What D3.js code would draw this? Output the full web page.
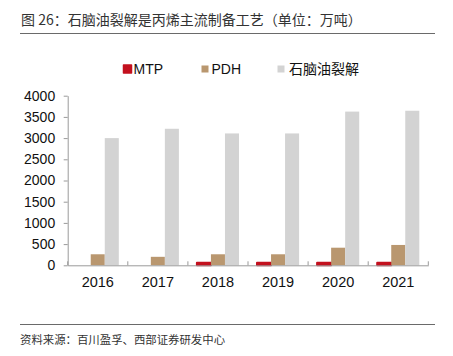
<!DOCTYPE html>
<html><head><meta charset="utf-8">
<script src="https://cdn.jsdelivr.net/npm/d3@7"></script>
<style>
html,body{margin:0;padding:0;background:#fff;}
svg{display:block;}
</style></head>
<body>
<script>
const years = ["2016","2017","2018","2019","2020","2021"];
const seriesNames = ["MTP","PDH","石脑油裂解"];
const mtp = [0, 0, 60, 60, 60, 60];
const pdh = [260, 200, 260, 260, 415, 480];
const naphtha = [3000, 3220, 3110, 3110, 3625, 3645];
const yTicks = [0,500,1000,1500,2000,2500,3000,3500,4000];
const colors = ["#C3101E","#B9976F","#D3D3D3"];
const titleText = "图 26：石脑油裂解是丙烯主流制备工艺（单位：万吨）";
const sourceText = "资料来源：百川盈孚、西部证券研发中心";

const W = 453, H = 356;
const svg = d3.select("body").append("svg").attr("width", W).attr("height", H);
const cjk = "'Noto Sans CJK SC', 'Noto Sans', sans-serif";
const latin = "'Liberation Sans', Arial, sans-serif";

// title
svg.append("text").attr("x", 21).attr("y", 24.5)
  .attr("font-family", cjk).attr("font-size", 14).attr("fill", "#333")
  .text(titleText);
svg.append("line").attr("x1", 20).attr("x2", 435).attr("y1", 33.5).attr("y2", 33.5)
  .attr("stroke", "#6a6a6a").attr("stroke-width", 1);

// footer
svg.append("line").attr("x1", 20).attr("x2", 435).attr("y1", 324.5).attr("y2", 324.5)
  .attr("stroke", "#6a6a6a").attr("stroke-width", 1);
svg.append("text").attr("x", 20).attr("y", 344)
  .attr("font-family", cjk).attr("font-size", 11.4).attr("fill", "#333")
  .text(sourceText);

// scales
const x = d3.scaleBand().domain(years).range([67.7, 428.3]).paddingInner(0).paddingOuter(0);
const y = d3.scaleLinear().domain([0, 4000]).range([265.3, 95.7]);
const groupPad = 9;
const xs = d3.scaleBand().domain(seriesNames).range([groupPad, x.bandwidth() - groupPad]);

// y axis
const yAxis = svg.append("g").attr("transform", "translate(67.7,0)")
  .call(d3.axisLeft(y).tickValues(yTicks).tickFormat(d3.format("d")).tickSize(4).tickSizeOuter(0).tickPadding(8.5));
yAxis.selectAll("path, line").attr("stroke", "#9a9a9a");
yAxis.selectAll("text").attr("font-family", latin).attr("font-size", 14).attr("fill", "#111");

// bars
const seriesData = [mtp, pdh, naphtha];
seriesNames.forEach((name, si) => {
  const g = svg.append("g");
  g.selectAll("rect").data(years.map((yr, i) => ({yr, v: seriesData[si][i]})).filter(d => d.v > 0))
    .enter().append("rect")
    .attr("x", d => x(d.yr) + xs(name))
    .attr("width", xs.bandwidth())
    .attr("y", d => y(d.v))
    .attr("height", d => y(0) - y(d.v))
    .attr("fill", colors[si])
    .attr("stroke", si === 0 ? colors[0] : "none")
    .attr("stroke-width", si === 0 ? 2 : 0)
    .attr("stroke-linejoin", "round");
});

// x axis
const xAxis = svg.append("g").attr("transform", `translate(0,${y(0)})`)
  .call(d3.axisBottom(x).tickSize(0).tickPadding(11).tickSizeOuter(0));
xAxis.select("path").attr("stroke", "#9a9a9a");
xAxis.selectAll("text").attr("font-family", latin).attr("font-size", 14.5).attr("fill", "#111");
const bounds = years.map(d => x(d)).concat([x(years[years.length-1]) + x.bandwidth()]);
xAxis.selectAll("line.sep").data(bounds).enter().append("line").attr("class","sep")
  .attr("x1", d => d).attr("x2", d => d).attr("y1", -4).attr("y2", 0)
  .attr("stroke", "#9a9a9a");

// legend
const legendPos = [{rx:123.5, tx:133.5, s:8}, {rx:201.5, tx:211.5, s:7}, {rx:277.5, tx:289, s:7}];
seriesNames.forEach((name, i) => {
  const p = legendPos[i];
  svg.append("rect").attr("x", p.rx).attr("y", 69 - p.s/2).attr("width", p.s).attr("height", p.s)
    .attr("fill", colors[i])
    .attr("stroke", i === 0 ? colors[0] : "none").attr("stroke-width", i === 0 ? 1.5 : 0)
    .attr("stroke-linejoin", "round");
  svg.append("text").attr("x", p.tx).attr("y", 74)
    .attr("font-family", i === 2 ? cjk : latin).attr("font-size", 14).attr("fill", "#111")
    .text(name);
});
</script>
</body></html>
